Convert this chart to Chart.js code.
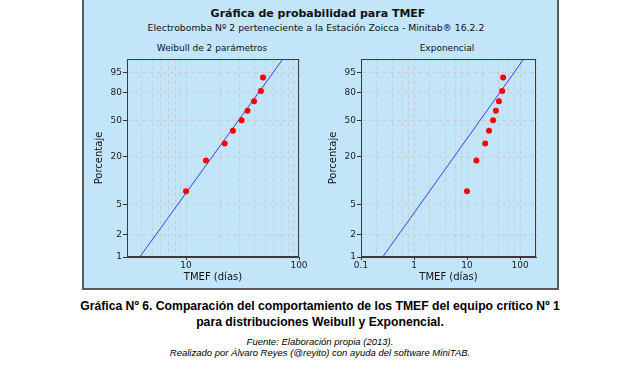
<!DOCTYPE html>
<html>
<head>
<meta charset="utf-8">
<script src="https://cdn.jsdelivr.net/npm/chart.js@4/dist/chart.umd.min.js"></script>
<style>
  body { margin: 0; background: #fff; width: 640px; height: 365px; overflow: hidden; position: relative; font-family: 'DejaVu Sans', sans-serif; }
  #panel { position: absolute; left: 82px; top: 0; width: 473px; height: 288px; background: #c2e5f9;
           border-left: 2px solid #5a5a5a; border-right: 2px solid #5a5a5a; border-bottom: 2px solid #5a5a5a; }
  .t { position: absolute; white-space: nowrap; transform: translate(-50%, -50%); color: #111; }
  canvas { position: absolute; }
  .cap { position: absolute; left: 0; width: 640px; text-align: center; font-family: 'Liberation Sans', Arial, sans-serif; color: #000; }
</style>
</head>
<body>
<div id="panel"></div>
<div class="t" style="left:318px; top:13px; font-weight:bold; font-size:11px;">Gráfica de probabilidad para TMEF</div>
<div class="t" style="left:316px; top:27px; font-size:9.3px;">Electrobomba Nº 2 perteneciente a la Estación Zoicca - Minitab® 16.2.2</div>
<div class="t" style="left:212px; top:48px; font-size:9px;">Weibull de 2 parámetros</div>
<div class="t" style="left:447px; top:48px; font-size:9px;">Exponencial</div>
<canvas id="weibull" width="230" height="245" style="left:82px; top:40px;"></canvas>
<canvas id="expo" width="236" height="245" style="left:316px; top:40px;"></canvas>
<div class="cap" style="top:298px; font-weight:bold; font-size:12.2px; line-height:16px;">Gráfica Nº 6. Comparación del comportamiento de los TMEF del equipo crítico Nº 1<br>para distribuciones Weibull y Exponencial.</div>
<div class="cap" style="top:336px; font-style:italic; font-size:9.5px; line-height:11px;">Fuente: Elaboración propia (2013).<br>Realizado por Álvaro Reyes (@reyito) con ayuda del software MiniTAB.</div>

<script>
// Data
const TMEF = [10, 15, 22, 26, 31, 35, 40, 46, 48];            // días
const PCT  = [7.4, 18.1, 28.7, 39.4, 50.0, 60.6, 71.3, 81.9, 92.6]; // median ranks, %

// fitted distributions
const WEIBULL_SHAPE = 2.1;
const WEIBULL_SCALE = 34.8;
const EXPO_MEAN = 25.5;
const FIT_PCT = [1, 99];

// axis ticks
const PCT_TICKS = [1, 2, 5, 20, 50, 80, 95];
const PCT_MIN = 1, PCT_MAX = 99;
const W_XTICKS = [3, 4, 5, 6, 7, 8, 9, 10, 20, 30, 40, 50, 60, 70, 80, 90, 100];
const W_XLABELS = [10, 100];
const E_XTICKS = [0.1, 0.2, 0.4, 0.6, 0.8, 1, 2, 4, 6, 8, 10, 20, 40, 60, 80, 100, 200];
const E_XLABELS = [0.1, 1, 10, 100];

// Weibull probability paper: y = ln(-ln(1-p))
const wp = p => Math.log(-Math.log(1 - p / 100));

const FONT = { family: "'DejaVu Sans', sans-serif", size: 9 };
const TITLE_FONT = { family: "'DejaVu Sans', sans-serif", size: 10 };

const boxPlugin = {
  id: 'box',
  afterDraw(chart) {
    const a = chart.chartArea, ctx = chart.ctx;
    ctx.save();
    ctx.strokeStyle = '#3a3a3a';
    ctx.lineWidth = 1;
    ctx.strokeRect(Math.round(a.left) + 0.5, Math.round(a.top) + 0.5,
                   Math.round(a.right - a.left) - 1, Math.round(a.bottom - a.top) - 1);
    ctx.restore();
  }
};

function probChart(id, xmin, xmax, xticks, xlabels, fitLine, padRight) {
  const pts = TMEF.map((x, i) => ({ x: x, y: wp(PCT[i]) }));
  const line = FIT_PCT.map(p => ({ x: fitLine(p), y: wp(p) }));
  return new Chart(document.getElementById(id), {
    type: 'scatter',
    data: {
      datasets: [{
        data: pts,
        backgroundColor: '#ff0000',
        borderWidth: 0,
        pointRadius: 3,
        order: 0,
      }, {
        data: line,
        showLine: true,
        borderColor: '#3c3cff',
        borderWidth: 1,
        pointRadius: 0,
        order: 1,
      }]
    },
    options: {
      responsive: false,
      animation: false,
      devicePixelRatio: 1,
      layout: { padding: { left: 0, top: 19, right: padRight, bottom: 0 } },
      plugins: { legend: { display: false }, tooltip: { enabled: false } },
      scales: {
        x: {
          type: 'logarithmic',
          min: xmin, max: xmax,
          afterBuildTicks: s => { s.ticks = xticks.map(v => ({ value: v })); },
          afterFit: s => { s.height = 28; s.paddingLeft = 0; s.paddingRight = 0; },
          ticks: {
            autoSkip: false, maxRotation: 0, minRotation: 0, padding: 0,
            color: '#222', font: FONT,
            callback: (v, i) => xlabels.includes(xticks[i]) ? String(xticks[i]) : ''
          },
          grid: {
            color: '#cccccc', tickLength: 3,
            tickColor: c => xlabels.includes(xticks[c.index]) ? '#333' : 'rgba(0,0,0,0)'
          },
          border: { dash: [4, 3], color: '#3a3a3a' },
          title: { display: true, text: 'TMEF (días)', color: '#111', font: TITLE_FONT, padding: { top: 0, bottom: 2 } }
        },
        y: {
          type: 'linear',
          min: wp(PCT_MIN), max: wp(PCT_MAX),
          afterBuildTicks: s => { s.ticks = PCT_TICKS.map(p => ({ value: wp(p) })); },
          afterFit: s => { s.width = 45; s.paddingTop = 0; s.paddingBottom = 0; },
          ticks: {
            autoSkip: false, padding: 1, color: '#222', font: FONT,
            callback: (v, i) => String(PCT_TICKS[i])
          },
          grid: { color: '#cccccc', tickLength: 4, tickColor: '#333' },
          border: { dash: [4, 3], color: '#3a3a3a' },
          title: { display: true, text: 'Porcentaje', color: '#111', font: TITLE_FONT, padding: { top: 11, bottom: 0 } }
        }
      }
    },
    plugins: [boxPlugin]
  });
}

probChart('weibull', 3, 100, W_XTICKS, W_XLABELS,
  p => WEIBULL_SCALE * Math.pow(-Math.log(1 - p / 100), 1 / WEIBULL_SHAPE), 13);
probChart('expo', 0.1, 200, E_XTICKS, E_XLABELS,
  p => -EXPO_MEAN * Math.log(1 - p / 100), 16);
</script>
</body>
</html>
